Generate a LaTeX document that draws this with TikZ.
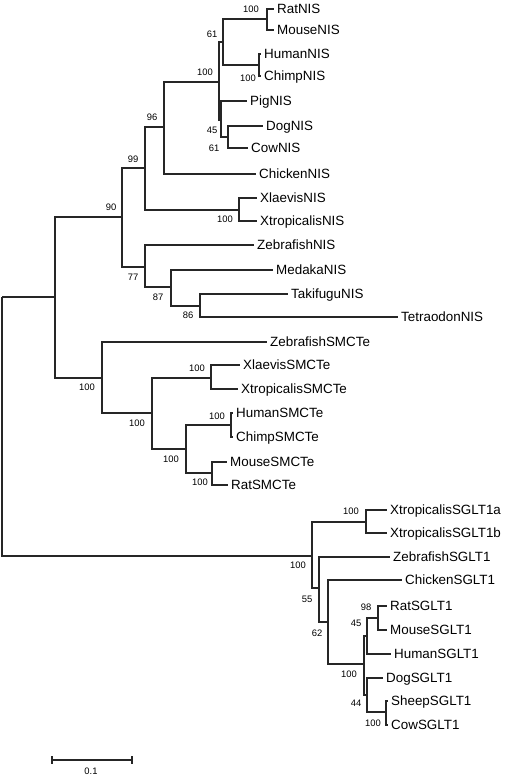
\documentclass[tikz,border=0pt]{standalone}
\usepackage{fontspec}
\setmainfont{Liberation Sans}
\begin{document}
\begin{tikzpicture}[x=1pt,y=-1pt,
  br/.style={line width=1.1pt, draw=black!85},
  leaf/.style={anchor=west, inner xsep=3pt, inner ysep=0pt, text height=9.6pt, text depth=0pt, font=\fontsize{13.4}{14}\selectfont},
  bs/.style={inner sep=0pt, font=\fontsize{9.4}{10}\selectfont}]
\useasboundingbox (0,0) rectangle (504,775);
% internal nodes
\coordinate (root) at (2,297);
\coordinate (nA) at (55,297);
\coordinate (n90) at (122,217);
\coordinate (n99) at (145,168);
\coordinate (n96) at (164,127);
\coordinate (nM100) at (219,82);
\coordinate (n61a) at (223,42);
\coordinate (nRM) at (267,19);
\coordinate (nHC) at (259,65);
\coordinate (n45) at (221,120);
\coordinate (n61b) at (228,137);
\coordinate (nXX) at (239,210);
\coordinate (n77) at (145,267);
\coordinate (n87) at (171,287);
\coordinate (n86) at (200,306);
\coordinate (nSM) at (102,378);
\coordinate (nS152) at (152,413);
\coordinate (nSXX) at (211,378);
\coordinate (nS186) at (186,449);
\coordinate (nSHC) at (231,425);
\coordinate (nSMR) at (212,473);
\coordinate (nG) at (312,556);
\coordinate (nGX) at (366,522);
\coordinate (n55) at (319,588);
\coordinate (n62) at (328,622);
\coordinate (nG100) at (364,664);
\coordinate (nG45) at (367,636);
\coordinate (nG98) at (378,618);
\coordinate (nG44) at (367,695);
\coordinate (nGSC) at (386,712);
% leaves
\node[leaf] (lRatNIS) at (274,9) {RatNIS};
\node[leaf] (lMouseNIS) at (274,30) {MouseNIS};
\node[leaf] (lHumanNIS) at (261,54) {HumanNIS};
\node[leaf] (lChimpNIS) at (261,76) {ChimpNIS};
\node[leaf] (lPigNIS) at (247,101) {PigNIS};
\node[leaf] (lDogNIS) at (263,126) {DogNIS};
\node[leaf] (lCowNIS) at (248,148) {CowNIS};
\node[leaf] (lChickenNIS) at (256,174) {ChickenNIS};
\node[leaf] (lXlaevisNIS) at (257,198) {XlaevisNIS};
\node[leaf] (lXtropNIS) at (257,221) {XtropicalisNIS};
\node[leaf] (lZebraNIS) at (254,245) {ZebrafishNIS};
\node[leaf] (lMedakaNIS) at (273,270) {MedakaNIS};
\node[leaf] (lTakiNIS) at (288,294) {TakifuguNIS};
\node[leaf] (lTetraNIS) at (398,317) {TetraodonNIS};
\node[leaf] (lZebraSM) at (267,342) {ZebrafishSMCTe};
\node[leaf] (lXlaevisSM) at (240,365) {XlaevisSMCTe};
\node[leaf] (lXtropSM) at (238,389) {XtropicalisSMCTe};
\node[leaf] (lHumanSM) at (233,413) {HumanSMCTe};
\node[leaf] (lChimpSM) at (233,437) {ChimpSMCTe};
\node[leaf] (lMouseSM) at (227,462) {MouseSMCTe};
\node[leaf] (lRatSM) at (228,485) {RatSMCTe};
\node[leaf] (lXtropGa) at (387,510) {XtropicalisSGLT1a};
\node[leaf] (lXtropGb) at (387,533) {XtropicalisSGLT1b};
\node[leaf] (lZebraG) at (390,557) {ZebrafishSGLT1};
\node[leaf] (lChickenG) at (402,580) {ChickenSGLT1};
\node[leaf] (lRatG) at (387,606) {RatSGLT1};
\node[leaf] (lMouseG) at (387,630) {MouseSGLT1};
\node[leaf] (lHumanG) at (391,654) {HumanSGLT1};
\node[leaf] (lDogG) at (383,678) {DogSGLT1};
\node[leaf] (lSheepG) at (388,701) {SheepSGLT1};
\node[leaf] (lCowG) at (388,725) {CowSGLT1};
% branches
\draw[br] (root) |- (nA);
\draw[br] (root) |- (nG);
\draw[br] (nA) |- (n90);
\draw[br] (nA) |- (nSM);
\draw[br] (n90) |- (n99);
\draw[br] (n90) |- (n77);
\draw[br] (n99) |- (n96);
\draw[br] (n99) |- (nXX);
\draw[br] (n96) |- (nM100);
\draw[br] (n96) |- (lChickenNIS);
\draw[br] (nM100) |- (n61a);
\draw[br] (nM100) |- (n45);
\draw[br] (n61a) |- (nRM);
\draw[br] (n61a) |- (nHC);
\draw[br] (nRM) |- (lRatNIS);
\draw[br] (nRM) |- (lMouseNIS);
\draw[br] (nHC) |- (lHumanNIS);
\draw[br] (nHC) |- (lChimpNIS);
\draw[br] (n45) |- (lPigNIS);
\draw[br] (n45) |- (n61b);
\draw[br] (n61b) |- (lDogNIS);
\draw[br] (n61b) |- (lCowNIS);
\draw[br] (nXX) |- (lXlaevisNIS);
\draw[br] (nXX) |- (lXtropNIS);
\draw[br] (n77) |- (lZebraNIS);
\draw[br] (n77) |- (n87);
\draw[br] (n87) |- (lMedakaNIS);
\draw[br] (n87) |- (n86);
\draw[br] (n86) |- (lTakiNIS);
\draw[br] (n86) |- (lTetraNIS);
\draw[br] (nSM) |- (lZebraSM);
\draw[br] (nSM) |- (nS152);
\draw[br] (nS152) |- (nSXX);
\draw[br] (nS152) |- (nS186);
\draw[br] (nSXX) |- (lXlaevisSM);
\draw[br] (nSXX) |- (lXtropSM);
\draw[br] (nS186) |- (nSHC);
\draw[br] (nS186) |- (nSMR);
\draw[br] (nSHC) |- (lHumanSM);
\draw[br] (nSHC) |- (lChimpSM);
\draw[br] (nSMR) |- (lMouseSM);
\draw[br] (nSMR) |- (lRatSM);
\draw[br] (nG) |- (nGX);
\draw[br] (nG) |- (n55);
\draw[br] (nGX) |- (lXtropGa);
\draw[br] (nGX) |- (lXtropGb);
\draw[br] (n55) |- (lZebraG);
\draw[br] (n55) |- (n62);
\draw[br] (n62) |- (lChickenG);
\draw[br] (n62) |- (nG100);
\draw[br] (nG100) |- (nG45);
\draw[br] (nG100) |- (nG44);
\draw[br] (nG45) |- (nG98);
\draw[br] (nG45) |- (lHumanG);
\draw[br] (nG98) |- (lRatG);
\draw[br] (nG98) |- (lMouseG);
\draw[br] (nG44) |- (lDogG);
\draw[br] (nG44) |- (nGSC);
\draw[br] (nGSC) |- (lSheepG);
\draw[br] (nGSC) |- (lCowG);
% bootstrap values
\node[bs] (b1) at (251,9) {100};
\node[bs] (b2) at (212,34) {61};
\node[bs] (b3) at (205,72) {100};
\node[bs] (b4) at (248,78) {100};
\node[bs] (b5) at (212,130) {45};
\node[bs] (b6) at (214,148) {61};
\node[bs] (b7) at (152,117) {96};
\node[bs] (b8) at (133,159) {99};
\node[bs] (b9) at (111,207) {90};
\node[bs] (b10) at (225,219) {100};
\node[bs] (b11) at (133,277) {77};
\node[bs] (b12) at (158,297) {87};
\node[bs] (b13) at (188,315) {86};
\node[bs] (b14) at (87,387) {100};
\node[bs] (b15) at (197,368) {100};
\node[bs] (b16) at (137,423) {100};
\node[bs] (b17) at (171,459) {100};
\node[bs] (b18) at (217,416) {100};
\node[bs] (b19) at (200,482) {100};
\node[bs] (b20) at (298,565) {100};
\node[bs] (b21) at (351,511) {100};
\node[bs] (b22) at (307,599) {55};
\node[bs] (b23) at (317,633) {62};
\node[bs] (b24) at (349,674) {100};
\node[bs] (b25) at (366,607) {98};
\node[bs] (b26) at (356,623) {45};
\node[bs] (b27) at (356,703) {44};
\node[bs] (b28) at (373,723) {100};
% scale bar
\coordinate (sb1) at (52,760);
\coordinate (sb2) at (132,760);
\draw[br] (sb1) -- (sb2);
\draw[br] ([yshift=4pt]sb1) -- ([yshift=-4pt]sb1);
\draw[br] ([yshift=4pt]sb2) -- ([yshift=-4pt]sb2);
\node[bs] (sbl) at (91,771) {0.1};
\end{tikzpicture}
\end{document}
